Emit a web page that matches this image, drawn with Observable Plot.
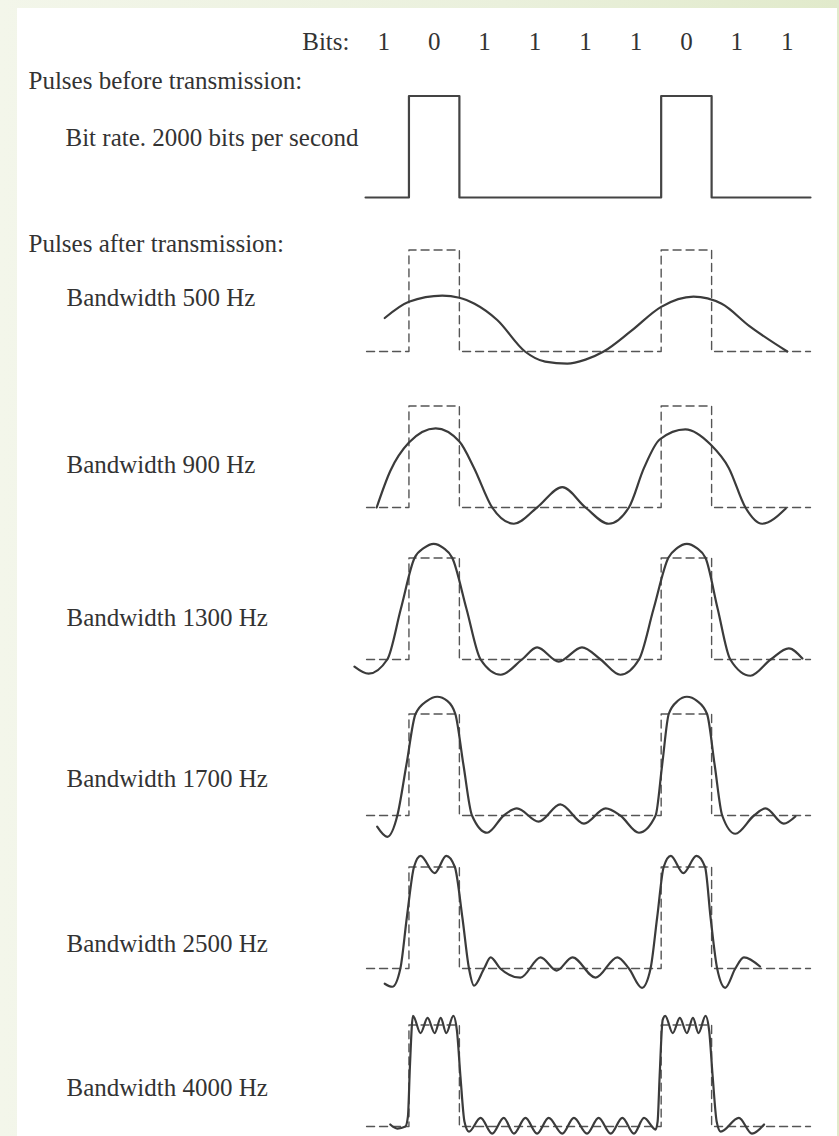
<!DOCTYPE html>
<html>
<head>
<meta charset="utf-8">
<script src="https://cdn.jsdelivr.net/npm/d3@7"></script>
<script src="https://cdn.jsdelivr.net/npm/@observablehq/plot@0.6"></script>
<style>
  html, body { margin: 0; padding: 0; }
  body {
    width: 839px; height: 1136px; overflow: hidden; position: relative;
    background: linear-gradient(90deg, #f3f6ea 0%, #eaf0dc 60%, #e1eacb 100%);
  }
  #sheet { position: absolute; left: 17px; top: 8px; width: 820px; height: 1128px; background: #fff; }
  #chart { position: absolute; left: 0; top: 0; width: 839px; height: 1136px; }
</style>
</head>
<body>
<div id="sheet"></div>
<div id="chart"></div>
<script>
// ---- data -------------------------------------------------------------
// transmitted bit sequence (a "0" is sent as a raised pulse)
const bits = ["1", "0", "1", "1", "1", "1", "0", "1", "1"];
const bitRate = 2000;
const bandwidths = [500, 900, 1300, 1700, 2500, 4000];

// extent of the drawn traces, in bit periods
const traceStart = 0.14;
const traceEnd = 8.96;

// received waveforms: [time in bit periods, level relative to the ideal pulse]
const bw500 = [[0.52,0.33],[1.0,0.49],[1.66,0.55],[2.0,0.53],[2.3,0.47],[2.75,0.31],[3.3,0.0],[3.7,-0.1],[4.14,-0.12],[4.5,-0.08],[4.86,0.0],[5.4,0.2],[6.0,0.44],[6.64,0.54],[7.2,0.47],[7.75,0.25],[8.5,0.0]];
const bw900 = [[0.36,0.0],[0.63,0.36],[1.0,0.64],[1.53,0.78],[2.0,0.65],[2.29,0.39],[2.65,0.0],[3.08,-0.16],[3.54,0.0],[4.04,0.2],[4.5,0.0],[4.96,-0.16],[5.36,0.0],[5.66,0.39],[5.97,0.67],[6.48,0.77],[6.98,0.62],[7.34,0.39],[7.67,0.0],[8.0,-0.16],[8.47,-0.01]];
const bw1300 = [[-0.08,-0.07],[0.2,-0.14],[0.57,0.0],[0.84,0.5],[1.11,1.0],[1.3,1.1],[1.49,1.14],[1.68,1.1],[1.86,1.0],[2.14,0.5],[2.42,0.0],[2.82,-0.15],[3.24,0.0],[3.54,0.12],[3.97,-0.02],[4.43,0.12],[4.8,0.0],[5.19,-0.15],[5.56,0.0],[5.85,0.5],[6.14,1.0],[6.32,1.1],[6.51,1.14],[6.7,1.1],[6.88,1.0],[7.12,0.5],[7.37,0.0],[7.77,-0.16],[8.17,0.0],[8.53,0.11],[8.8,0.01]];
const bw1700 = [[0.37,-0.11],[0.57,-0.21],[0.77,0.0],[0.95,0.5],[1.13,1.0],[1.36,1.13],[1.56,1.17],[1.76,1.13],[1.92,1.0],[2.08,0.5],[2.25,0.0],[2.55,-0.17],[2.88,0.0],[3.14,0.07],[3.57,-0.06],[4.0,0.11],[4.47,-0.08],[4.9,0.07],[5.19,0.0],[5.56,-0.17],[5.89,0.0],[6.02,0.5],[6.15,1.0],[6.33,1.13],[6.51,1.17],[6.71,1.13],[6.91,1.0],[7.06,0.5],[7.21,0.0],[7.47,-0.18],[7.84,0.0],[8.07,0.07],[8.43,-0.08],[8.66,-0.01]];
const bw2500 = [[0.52,-0.15],[0.67,-0.18],[0.83,0.0],[0.96,0.51],[1.1,1.0],[1.23,1.11],[1.51,0.94],[1.74,1.11],[1.91,1.0],[2.06,0.5],[2.19,0.0],[2.29,-0.17],[2.49,0.0],[2.62,0.11],[2.81,0.0],[3.21,-0.09],[3.61,0.11],[3.93,-0.02],[4.24,0.11],[4.7,-0.09],[5.13,0.11],[5.36,0.0],[5.62,-0.19],[5.79,0.0],[5.92,0.5],[6.05,1.0],[6.19,1.11],[6.44,0.94],[6.7,1.11],[6.87,1.0],[6.98,0.5],[7.11,0.0],[7.27,-0.19],[7.47,0.0],[7.64,0.11],[7.96,0.02]];
const bw4000 = [[0.63,0.02],[0.77,-0.02],[0.93,0.0],[0.98,0.1],[1.02,0.6],[1.08,1.09],[1.23,0.92],[1.37,1.07],[1.51,0.92],[1.63,1.07],[1.74,0.92],[1.88,1.09],[1.95,0.95],[2.02,0.5],[2.1,0.05],[2.19,-0.05],[2.42,0.085],[2.65,-0.07],[2.88,0.085],[3.08,-0.07],[3.31,0.085],[3.54,-0.07],[3.77,0.085],[4.04,-0.07],[4.27,0.085],[4.53,-0.07],[4.76,0.085],[5.0,-0.07],[5.23,0.085],[5.46,-0.07],[5.66,0.085],[5.89,-0.03],[5.93,0.05],[5.97,0.5],[6.03,1.05],[6.08,1.09],[6.23,0.92],[6.37,1.07],[6.51,0.92],[6.63,1.07],[6.74,0.92],[6.88,1.09],[6.95,0.95],[7.02,0.5],[7.1,0.05],[7.18,-0.05],[7.54,0.085],[7.8,-0.07],[8.04,0.02]];
const received = [bw500, bw900, bw1300, bw1700, bw2500, bw4000];

// ---- layout -----------------------------------------------------------
const W = 839;
const UNIT = 101.5;                 // pixels per pulse height
const FONT = "Liberation Serif, Times New Roman, serif";
const INK = "#333";
const root = document.getElementById("chart");

// pulse train as a step line, from the bit values
const levels = bits.map(b => (b === "0" ? 1 : 0));
const pulseTrain = levels.map((l, i) => [i, l]).concat([[bits.length, levels[levels.length - 1]]]);
pulseTrain[0][0] = traceStart;
pulseTrain[pulseTrain.length - 1][0] = traceEnd;

function label(text, x, y, anchor = "start") {
  return Plot.text([text], {
    text: d => d, frameAnchor: "top-left", dx: x, dy: y,
    textAnchor: anchor, lineAnchor: "middle", fontSize: 25, fill: INK
  });
}

function panel({top, height, base, marks}) {
  const svg = Plot.plot({
    width: W, height,
    marginTop: 0, marginRight: 0, marginBottom: 0, marginLeft: 0,
    x: {domain: [0, bits.length], range: [358, 812], axis: null},
    y: {domain: [0, 1], range: [base - top, base - top - UNIT], axis: null},
    style: {background: "transparent", overflow: "visible", fontFamily: FONT, color: INK},
    marks
  });
  svg.style.position = "absolute";
  svg.style.left = "0px";
  svg.style.top = top + "px";
  root.append(svg);
}

// header row and the pulses before transmission
{
  const top = 0, base = 197;
  panel({
    top, height: 235, base,
    marks: [
      label("Bits:", 349, 41 - top, "end"),
      Plot.text(bits, {x: (d, i) => i + 0.5, text: d => d, frameAnchor: "top", dy: 41 - top, lineAnchor: "middle", fontSize: 25, fill: INK}),
      label("Pulses before transmission:", 28, 80 - top),
      label(`Bit rate. ${bitRate} bits per second`, 65, 137 - top),
      Plot.line(pulseTrain, {x: d => d[0], y: d => d[1], curve: "step-after", stroke: "#444", strokeWidth: 2.2})
    ]
  });
}

// pulses after transmission, one strip per bandwidth
const baselines = [351, 507, 659, 815, 968, 1126];
const labelLift = [54, 43, 42, 37, 25, 39];
bandwidths.forEach((bw, k) => {
  const base = baselines[k];
  const top = base - 135;
  const marks = [
    Plot.line(pulseTrain.map(([t, v]) => [t === traceStart ? 0.16 : t, v]), {
      x: d => d[0], y: d => d[1], curve: "step-after",
      stroke: "#555", strokeWidth: 1.4, strokeDasharray: "8,5"
    }),
    Plot.line(received[k], {x: d => d[0], y: d => d[1], curve: "monotone-x", stroke: "#3b3b3b", strokeWidth: 2.2}),
    label(`Bandwidth ${bw} Hz`, 66, base - labelLift[k] - top)
  ];
  if (k === 0) marks.push(label("Pulses after transmission:", 28, 243 - top));
  panel({top, height: 175, base, marks});
});
</script>
</body>
</html>
